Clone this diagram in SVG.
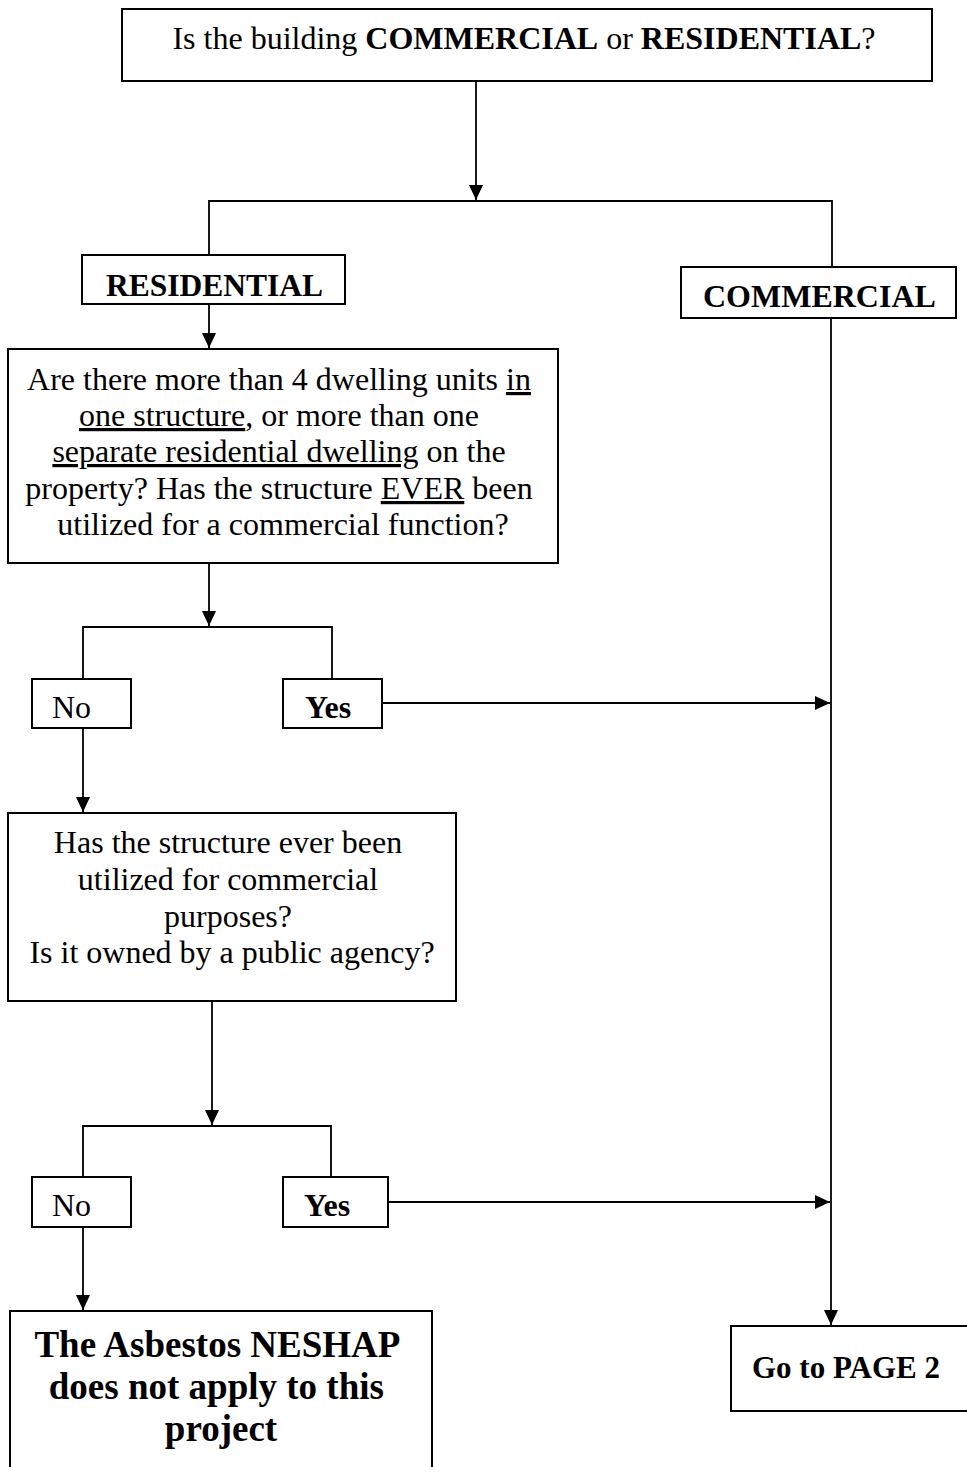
<svg xmlns="http://www.w3.org/2000/svg" width="967" height="1467" viewBox="0 0 967 1467">
<style>
  .box { fill: #ffffff; stroke: #000000; stroke-width: 2; }
  .conn { fill: none; stroke: #000000; stroke-width: 1.8; }
  .t { font-family: "Liberation Serif", "Times New Roman", serif; font-size: 32px; fill: #000000; }
  .b { font-weight: bold; }
  .u { text-decoration: underline; }
</style>
<defs>
  <marker id="arrow" markerUnits="userSpaceOnUse" markerWidth="16" markerHeight="14" refX="15" refY="7" orient="auto">
    <path d="M0,0 L15,7 L0,14 z" fill="#000000"/>
  </marker>
</defs>
<rect x="0" y="0" width="967" height="1467" fill="#ffffff"/>

<g id="connectors">
  <line class="conn" x1="476" y1="81" x2="476" y2="200" marker-end="url(#arrow)"/>
  <polyline class="conn" points="209,255 209,201 832,201 832,267"/>
  <line class="conn" x1="209" y1="304" x2="209" y2="348" marker-end="url(#arrow)"/>
  <line class="conn" x1="209" y1="563" x2="209" y2="626" marker-end="url(#arrow)"/>
  <polyline class="conn" points="83,679 83,627 332,627 332,679"/>
  <line class="conn" x1="382" y1="703" x2="830" y2="703" marker-end="url(#arrow)"/>
  <line class="conn" x1="83" y1="728" x2="83" y2="812" marker-end="url(#arrow)"/>
  <line class="conn" x1="212" y1="1001" x2="212" y2="1125" marker-end="url(#arrow)"/>
  <polyline class="conn" points="83,1177 83,1126 331,1126 331,1177"/>
  <line class="conn" x1="388" y1="1202" x2="830" y2="1202" marker-end="url(#arrow)"/>
  <line class="conn" x1="83" y1="1227" x2="83" y2="1310" marker-end="url(#arrow)"/>
  <line class="conn" x1="831" y1="318" x2="831" y2="1325" marker-end="url(#arrow)"/>
</g>

<g id="question-type">
  <rect class="box" x="122" y="9" width="810" height="72"/>
  <text class="t" x="524" y="49" text-anchor="middle">Is the building <tspan class="b">COMMERCIAL</tspan> or <tspan class="b">RESIDENTIAL</tspan>?</text>
</g>

<g id="residential">
  <rect class="box" x="82" y="255" width="263" height="49"/>
  <text class="t b" x="106" y="296" style="font-size:31.5px">RESIDENTIAL</text>
</g>

<g id="commercial">
  <rect class="box" x="681" y="267" width="275" height="51"/>
  <text class="t b" x="703" y="307">COMMERCIAL</text>
</g>

<g id="question-dwelling">
  <rect class="box" x="8" y="349" width="550" height="214"/>
  <text class="t" text-anchor="middle">
    <tspan x="283" y="390">Are there more than 4 dwelling units <tspan class="u">in</tspan></tspan>
    <tspan x="283" y="426"><tspan class="u">one structure</tspan>, or more than one</tspan>
    <tspan x="283" y="462"><tspan class="u">separate residential dwelling</tspan> on the</tspan>
    <tspan x="283" y="499">property? Has the structure <tspan class="u">EVER</tspan> been</tspan>
    <tspan x="283" y="535">utilized for a commercial function?</tspan>
  </text>
</g>

<g id="no-1">
  <rect class="box" x="32" y="679" width="99" height="49"/>
  <text class="t" x="52" y="718">No</text>
</g>

<g id="yes-1">
  <rect class="box" x="283" y="679" width="99" height="49"/>
  <text class="t b" x="305" y="718">Yes</text>
</g>

<g id="question-public">
  <rect class="box" x="8" y="813" width="448" height="188"/>
  <text class="t" text-anchor="middle">
    <tspan x="232" y="853">Has the structure ever been</tspan>
    <tspan x="232" y="890">utilized for commercial</tspan>
    <tspan x="232" y="927">purposes?</tspan>
    <tspan x="232" y="963">Is it owned by a public agency?</tspan>
  </text>
</g>

<g id="no-2">
  <rect class="box" x="32" y="1177" width="99" height="50"/>
  <text class="t" x="52" y="1216">No</text>
</g>

<g id="yes-2">
  <rect class="box" x="283" y="1177" width="105" height="50"/>
  <text class="t b" x="304" y="1216">Yes</text>
</g>

<g id="not-apply">
  <rect class="box" x="10" y="1311" width="422" height="180"/>
  <text class="t b" text-anchor="middle" style="font-size:37px">
    <tspan x="221" y="1357">The Asbestos NESHAP</tspan>
    <tspan x="221" y="1399">does not apply to this</tspan>
    <tspan x="221" y="1441">project</tspan>
  </text>
</g>

<g id="page-2">
  <rect class="box" x="731" y="1326" width="250" height="85"/>
  <text class="t b" x="752" y="1378" style="font-size:31px">Go to PAGE 2</text>
</g>
</svg>
